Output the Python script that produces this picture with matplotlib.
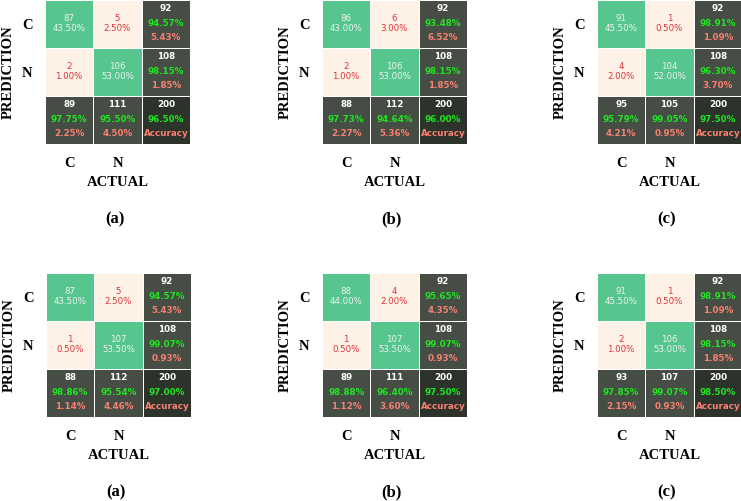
"""
Confusion matrices (C vs N) for six runs, laid out 2 x 3.
"""

import matplotlib
matplotlib.use("Agg")
import matplotlib.pyplot as plt
import numpy as np
from matplotlib.colors import ListedColormap, BoundaryNorm

# rows = prediction (C, N), columns = actual (C, N)
class_labels = ["C", "N"]
panel_tags = ["(a)", "(b)", "(c)", "(a)", "(b)", "(c)"]
cm_top_a = [[87, 5], [2, 106]]
cm_top_b = [[86, 6], [2, 106]]
cm_top_c = [[91, 1], [4, 104]]
cm_bot_a = [[87, 5], [1, 107]]
cm_bot_b = [[88, 4], [1, 107]]
cm_bot_c = [[91, 1], [2, 106]]
matrices = [cm_top_a, cm_top_b, cm_top_c, cm_bot_a, cm_bot_b, cm_bot_c]

W, H = 741, 501
# grid boxes in pixels: left, top
grid_boxes = [(45, 0), (322, 0), (597, 0), (46, 273), (322, 273), (597, 273)]
GW, GH = 145, 143.5

PEACH = "#fef1e6"
GREEN = "#56c68e"
DARK = (0.27, 0.30, 0.27)
CORNER = (0.17, 0.20, 0.17)
cell_cmap = ListedColormap([PEACH, GREEN, DARK, CORNER])
cell_norm = BoundaryNorm([-0.5, 0.5, 1.5, 2.5, 3.5], 4)

SERIF = "Liberation Serif"
SANS = "DejaVu Sans"


def draw_matrix(ax, cm, tag):
    cm = np.array(cm)
    total = cm.sum()
    row_sum = cm.sum(axis=1)
    col_sum = cm.sum(axis=0)

    kind = np.full((3, 3), 2)
    kind[:2, :2] = (cm * 2 > row_sum[:, None]).astype(int)
    kind[2, 2] = 3
    ax.pcolormesh(np.arange(4), np.arange(4), kind, cmap=cell_cmap, norm=cell_norm,
                  edgecolors="white", linewidth=0.5)
    ax.set_xlim(0, 3)
    ax.set_ylim(3, 0)

    # inner cells
    for i in range(2):
        for j in range(2):
            col = "#eef3ef" if kind[i, j] == 1 else "#d8343c"
            ax.text(j + 0.5, i + 0.39, str(cm[i, j]), ha="center", va="center",
                    fontsize=6.2, color=col, family=SANS)
            ax.text(j + 0.5, i + 0.60, f"{cm[i, j] / total * 100:.2f}%", ha="center",
                    va="center", fontsize=6.2, color=col, family=SANS)

    # summary cells: right column (per prediction row), bottom row (per actual column)
    summaries = []
    for i in range(2):
        ok = cm[i, i] / row_sum[i] * 100
        summaries.append((i, 2, row_sum[i], f"{ok:.2f}%", f"{100 - ok:.2f}%"))
    for j in range(2):
        ok = cm[j, j] / col_sum[j] * 100
        summaries.append((2, j, col_sum[j], f"{ok:.2f}%", f"{100 - ok:.2f}%"))
    acc = np.trace(cm) / total * 100
    summaries.append((2, 2, total, f"{acc:.2f}%", "Accuracy"))
    for r, c, n, good, bad in summaries:
        ax.text(c + 0.5, r + 0.18, str(n), ha="center", va="center", fontsize=6.3,
                color="white", fontweight="bold", family=SANS)
        ax.text(c + 0.5, r + 0.49, good, ha="center", va="center", fontsize=6.3,
                color="#1fe61f", fontweight="bold", family=SANS)
        ax.text(c + 0.5, r + 0.79, bad, ha="center", va="center", fontsize=6.3,
                color="salmon", fontweight="bold", family=SANS)

    ax.set_xticks([0.5, 1.5])
    ax.set_xticklabels(class_labels)
    ax.set_yticks([0.5, 1.5])
    ax.set_yticklabels(class_labels)
    ax.tick_params(length=0, labelsize=10.5)
    ax.tick_params(axis="x", pad=10)
    ax.tick_params(axis="y", pad=9)
    for lab in ax.get_xticklabels() + ax.get_yticklabels():
        lab.set_family(SERIF)
        lab.set_fontweight("bold")
    for s in ax.spines.values():
        s.set_visible(False)

    ax.set_xlabel("ACTUAL", family=SERIF, fontweight="bold", fontsize=10.5, labelpad=4)
    ax.set_ylabel("PREDICTION", family=SERIF, fontweight="bold", fontsize=10.5, labelpad=5)
    ax.annotate(tag, xy=(0.5, 0), xycoords="axes fraction", xytext=(-2, -55),
                textcoords="offset points", ha="center", va="center",
                family=SERIF, fontweight="bold", fontsize=12)


def main():
    fig = plt.figure(figsize=(W / 100, H / 100), dpi=100)
    for (left, top), cm, tag in zip(grid_boxes, matrices, panel_tags):
        ax = fig.add_axes([left / W, 1 - (top + GH) / H, GW / W, GH / H])
        draw_matrix(ax, cm, tag)
    fig.savefig("out.png", dpi=100)


if __name__ == "__main__":
    main()
